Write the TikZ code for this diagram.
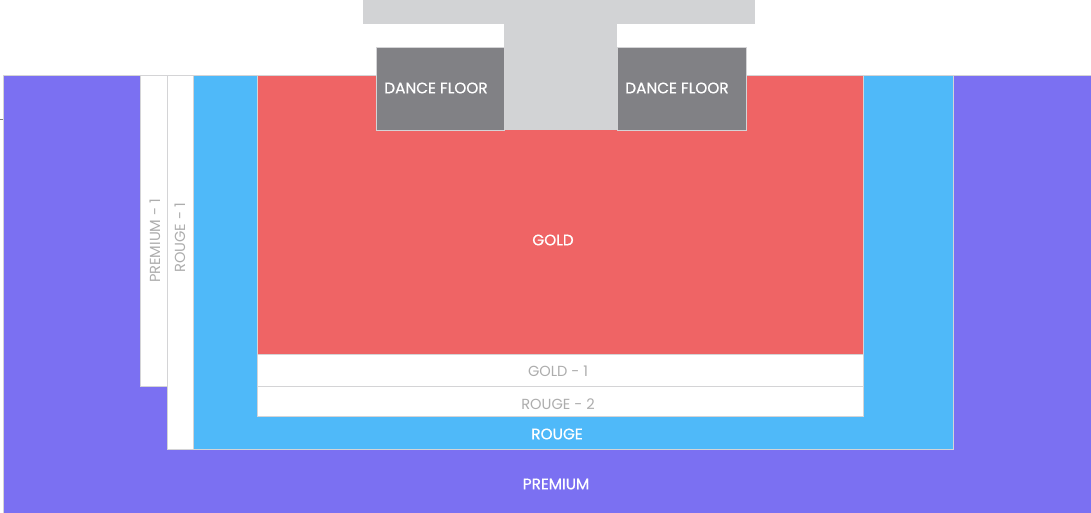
\documentclass[tikz,border=0pt]{standalone}
\usepackage{fontspec}
\setmainfont{Poppins}
\newfontfamily\medfont[FakeBold=0.6]{Poppins}
\definecolor{premium}{HTML}{7B70F2}
\definecolor{rouge}{HTML}{4FB9F9}
\definecolor{gold}{HTML}{EF6465}
\definecolor{dance}{HTML}{818185}
\definecolor{stage}{HTML}{D2D3D5}
\definecolor{edge}{HTML}{D4D4D6}
\definecolor{lbl}{HTML}{ADADAD}
\begin{document}
\begin{tikzpicture}[x=1pt,y=-1pt,
  zone/.style={draw=edge,line width=1pt},
  whitetxt/.style={text=white,font=\medfont\fontsize{15.3}{17}\selectfont,inner sep=0pt},
  graytxt/.style={text=lbl,font=\fontsize{14.6}{16}\selectfont,inner sep=0pt}]
\useasboundingbox (0,0) rectangle (1091,512);
% premium
\path[zone,fill=premium] (3,75) rectangle (1095,516);
\path[zone,fill=white] (140,75) rectangle (167,386);
\path[zone,fill=white] (167,75) rectangle (193,449);
\path[zone,fill=rouge] (193,75) rectangle (953,449);
\path[zone,fill=gold] (257,75) rectangle (863,354);
\path[zone,fill=white] (257,354) rectangle (863,386);
\path[zone,fill=white] (257,386) rectangle (863,416);
% stage
\path[fill=stage] (363,-2) rectangle (755,24);
\path[fill=stage] (504,24) rectangle (617,130);
\path[draw=edge,line width=1pt,fill=dance] (376,47) rectangle (504,130);
\path[draw=edge,line width=1pt,fill=dance] (617,47) rectangle (746,130);
\draw[gray,line width=1pt] (0,119) -- (3,119);
% labels
\node[whitetxt] (df1) at (436,88) {DANCE FLOOR};
\node[whitetxt] (df2) at (677,88) {DANCE FLOOR};
\node[whitetxt] (goldl) at (553,240) {GOLD};
\node[graytxt] (gold1) at (558,371) {GOLD - 1};
\node[graytxt] (rouge2) at (558,404) {ROUGE - 2};
\node[whitetxt] (rougel) at (557,434) {ROUGE};
\node[whitetxt] (premiuml) at (556,484) {PREMIUM};
\node[graytxt,rotate=90] (prem1) at (155,241) {PREMIUM - 1};
\node[graytxt,rotate=90] (rouge1) at (180,238) {ROUGE - 1};
\end{tikzpicture}
\end{document}
